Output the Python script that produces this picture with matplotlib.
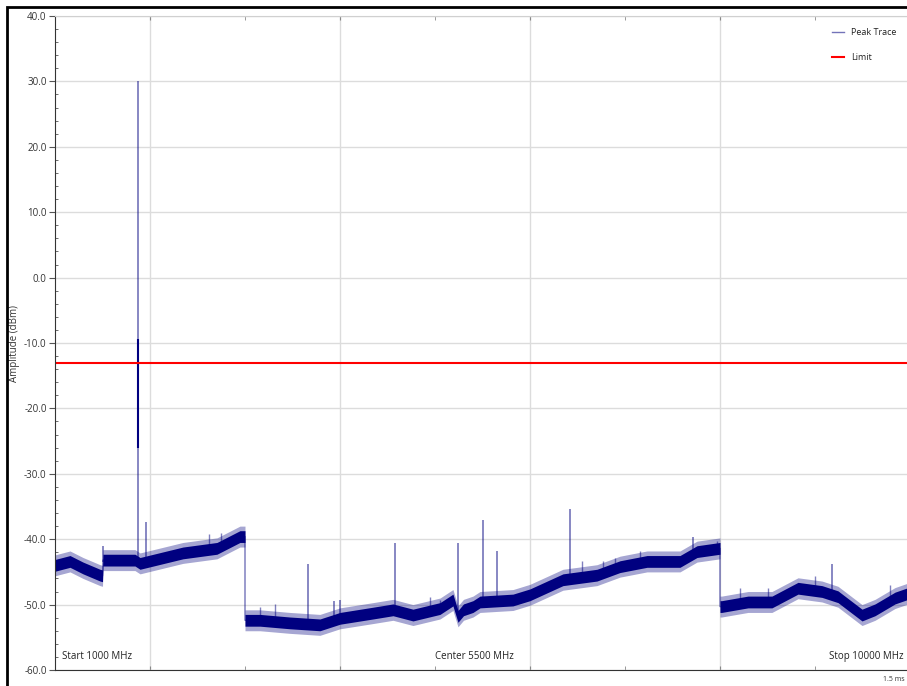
import numpy as np
import matplotlib.pyplot as plt
from matplotlib.patches import Rectangle

plt.rcParams['font.family'] = ['Open Sans', 'DejaVu Sans']

# sweep settings (MHz)
f_start = 1000
f_stop = 10000
limit_dbm = -13.0

# peak trace, level of the noise floor along the sweep (MHz, dBm)
trace_freq = [1000, 1158, 1295, 1474, 1500, 1505, 1842, 1895, 2347, 2705,
              2947, 3000, 3000, 3158, 3474, 3789, 4000, 4347, 4558, 4768,
              5053, 5189, 5242, 5300, 5400, 5474, 5821, 6000, 6347, 6705,
              6947, 7232, 7579, 7758, 8000, 8000, 8018, 8295, 8547, 8821,
              9074, 9242, 9495, 9632, 9842, 10000]
trace_level = [-44.0, -43.4, -44.4, -45.5, -45.6, -43.2, -43.2, -43.7, -42.1, -41.4,
               -39.6, -39.6, -52.4, -52.4, -52.8, -53.1, -52.1, -51.3, -50.8, -51.6,
               -50.6, -49.3, -51.8, -50.8, -50.3, -49.6, -49.3, -48.5, -46.2, -45.5,
               -44.2, -43.4, -43.4, -41.9, -41.4, -50.3, -50.3, -49.6, -49.6, -47.5,
               -48.0, -48.8, -51.6, -50.8, -49.0, -48.2]

# discrete emissions above the floor
spike_freq = [1502, 1877, 1958, 3666, 3940, 4000, 4579, 5242, 5502, 5650, 6421, 7713, 9176]
spike_top = [-41.0, 30.0, -37.3, -43.8, -49.4, -49.3, -40.6, -40.6, -37.1, -41.8, -35.4, -39.6, -43.8]
spike_base = [-43.5, -43.5, -43.7, -52.5, -52.0, -52.0, -51.0, -51.5, -49.6, -49.5, -46.5, -42.0, -48.0]
carrier_core = (-26.0, -9.4)

# smaller noise peaks sticking out of the floor
grass_freq = [2621, 2747, 3158, 3316, 4947, 5053, 6544, 6768, 6895, 7158,
              7968, 8211, 8505, 9000, 9789]
grass_top = [-39.2, -39.0, -50.3, -49.9, -48.8, -49.3, -43.3, -43.3, -42.9, -41.8,
             -40.2, -47.5, -47.5, -45.7, -47.0]
grass_base = [-41.6, -41.3, -52.4, -52.6, -51.0, -50.6, -45.8, -45.2, -44.5, -43.6,
              -41.5, -49.8, -49.6, -47.8, -49.3]

trace_col = '#000080'

fig = plt.figure(figsize=(9.07, 6.86), dpi=100)
ax = fig.add_axes([55 / 907, 16 / 686, 855 / 907, 654 / 686])

f = np.array(trace_freq)
lvl = np.array(trace_level)
ax.fill_between(f, lvl - 1.6, lvl + 1.6, color=trace_col, alpha=0.35, lw=0)
ax.fill_between(f, lvl - 0.9, lvl + 0.9, color=trace_col, lw=0)
ax.plot(f, lvl, color=trace_col, alpha=0.55, lw=1, label='Peak Trace')

ax.vlines(grass_freq, grass_base, grass_top, color=trace_col, alpha=0.5, lw=1)
ax.vlines(spike_freq, spike_base, spike_top, color=trace_col, alpha=0.55, lw=1.2)
ax.vlines(spike_freq[1], carrier_core[0], carrier_core[1], color=trace_col, lw=1.5)

ax.axhline(limit_dbm, color='#ff0000', lw=1.5, label='Limit')

ax.set_xlim(f_start, f_stop)
ax.set_ylim(-60, 40)
ax.set_xticks(np.arange(2000, 10001, 2000))
ax.set_xticks(np.arange(1000, 10001, 1000), minor=True)
ax.set_yticks(np.arange(-60, 41, 10))
ax.set_yticks(np.arange(-60, 41, 2), minor=True)
ax.set_yticklabels(['%.1f' % v for v in np.arange(-60, 41, 10)])
ax.tick_params(axis='x', which='both', labelbottom=False, direction='in',
               top=True, length=3, color='#888888')
ax.tick_params(axis='y', which='major', length=4, color='#555555',
               labelsize=7, labelcolor='#333333', pad=2)
ax.tick_params(axis='y', which='minor', direction='in', length=2, color='#555555')
ax.grid(True, which='major', color='#dcdcdc', lw=1)
ax.set_axisbelow(True)

for side in ['top', 'right']:
    ax.spines[side].set_color('#d0d0d0')
for side in ['left', 'bottom']:
    ax.spines[side].set_color('#333333')

ax.set_ylabel('Amplitude (dBm)', fontsize=7, color='#333333')
ax.yaxis.set_label_coords(-0.041, 0.5)

ax.text(0.008, 0.012, 'Start 1000 MHz', transform=ax.transAxes, fontsize=7,
        color='#222222', ha='left', va='bottom')
ax.text(0.49, 0.012, 'Center 5500 MHz', transform=ax.transAxes, fontsize=7,
        color='#222222', ha='center', va='bottom')
ax.text(0.992, 0.012, 'Stop 10000 MHz', transform=ax.transAxes, fontsize=7,
        color='#222222', ha='right', va='bottom')

ax.legend(loc='upper right', bbox_to_anchor=(0.994, 0.994), frameon=False,
          fontsize=6.5, handlelength=1.4, labelspacing=1.8, labelcolor='#222222')

fig.text(905 / 907, 3 / 686, '1.5 ms', fontsize=5, color='#333333', ha='right', va='bottom')

# window frame
fig.patches.append(Rectangle((7 / 907, -0.05), 1.0, 1.05 - 7 / 686, transform=fig.transFigure,
                             fill=False, edgecolor='black', lw=2))

fig.savefig('out.png', dpi=100)
